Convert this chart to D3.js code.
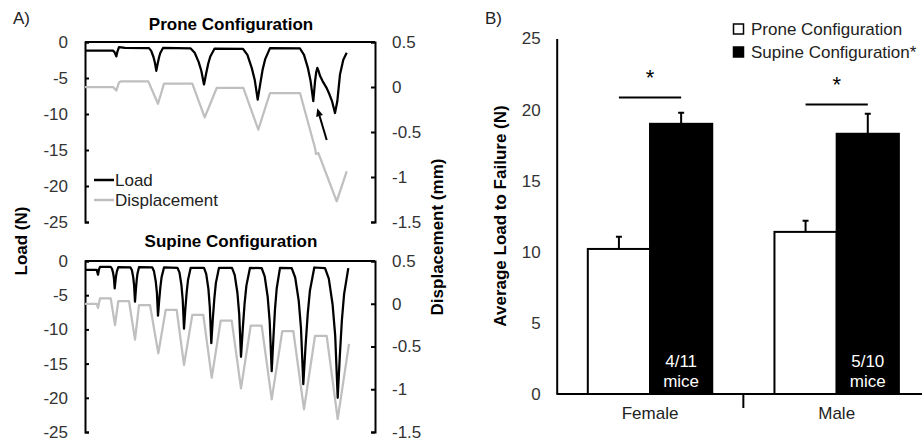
<!DOCTYPE html>
<meta charset="utf-8">
<title>Load to failure</title>
<style>
  body { margin: 0; background: #fff; }
  svg { font-family: "Liberation Sans", Arial, sans-serif; }
  .tick text { font-size: 17px; fill: #333; }
  .axis path, .axis line { stroke: #000; stroke-width: 2; }
  .ttl { font-size: 17px; font-weight: bold; fill: #000; }
  .lbl { font-size: 17px; fill: #222; }
</style>
<body>
<svg width="922" height="443"></svg>
<script src="https://cdnjs.cloudflare.com/ajax/libs/d3/7.8.5/d3.min.js"></script>
<script>
// ---------- Panel A data: [time (arbitrary units), value] ----------
const proneLoad = [
  [0,-1.2],[28,-1.2],[29.5,-1.4],[31.3,-2.0],[32.5,-1.3],[34,-0.7],[40,-0.8],[64,-0.85],
  [66.2,-1.23],[68.4,-2.05],[69.8,-2.8],[71.3,-4.0],[72.6,-3.05],[74,-2.16],[75.3,-1.53],[78,-0.83],
  [105.7,-0.9],[109.7,-1.5],[113.7,-2.8],[116.3,-4.0],[119,-5.9],[121.1,-4.41],[123.2,-3.02],[125.3,-2.02],[129.5,-0.93],
  [158,-0.95],[162.4,-1.8],[166.8,-3.63],[169.8,-5.32],[172.7,-8.0],[175.2,-5.86],[177.6,-3.85],[180.1,-2.42],[185,-0.85],
  [215,-0.9],[219,-1.78],[223,-3.67],[225.6,-5.43],[228.3,-8.2],[230,-5.5],[231.2,-4.2],[232.3,-3.6],[233.5,-4.0],
  [235,-4.7],[237.7,-5.46],[241.7,-6.4],[244.5,-7.3],[247,-8.2],[250,-9.86],[252.3,-8.24],[255,-4.5],[258.3,-2.46],[261.7,-1.5]
];
const proneDisp = [
  [0,0],[28,0],[31.3,-0.04],[34,0.05],[35.7,0.063],[63.3,0.063],[73,-0.186],[79,0.037],[107.3,0.037],
  [119.7,-0.337],[131.7,-0.011],[158.3,-0.011],[173.3,-0.474],[185,-0.067],[215,-0.067],[230,-0.678],
  [231,-0.744],[233.3,-0.733],[251.7,-1.27],[261.7,-0.937]
];
const supineLoad = [
  [0,-1.3],[11.7,-1.3],[13,-2.0],[14,-1.2],[15,-0.85],
  [25.7,-0.85],[26.9,-1.1],[28.1,-1.73],[28.9,-2.49],[29.7,-4.0],[30.4,-3.01],[31.1,-2.14],[31.9,-1.52],[33.3,-0.9],
  [45.5,-0.95],[46.9,-1.35],[48.2,-2.35],[49.1,-3.55],[50,-5.95],[50.8,-4.33],[51.6,-2.92],[52.4,-1.91],[54,-0.9],
  [67.3,-0.95],[69,-1.51],[70.7,-2.92],[71.9,-4.62],[73,-8.0],[74.2,-5.74],[75.4,-3.77],[76.6,-2.36],[79,-0.95],
  [92.5,-1.0],[94.5,-1.71],[96.4,-3.49],[97.7,-5.63],[99,-9.9],[100.3,-7.05],[101.7,-4.56],[103,-2.78],[105.7,-1.0],
  [119,-1.0],[121.2,-1.88],[123.4,-4.08],[124.8,-6.72],[126.3,-12.0],[127.8,-8.48],[129.4,-5.4],[130.9,-3.2],[134,-1.0],
  [147,-1.0],[149.7,-2.04],[152.4,-4.64],[154.2,-7.76],[156,-14.0],[157.8,-9.84],[159.6,-6.2],[161.4,-3.6],[165,-1.0],
  [176.7,-1.05],[179.7,-2.25],[182.7,-5.26],[184.7,-8.88],[186.7,-16.1],[188.4,-11.27],[190,-7.04],[191.7,-4.02],[195,-1.0],
  [206.7,-1.05],[210.2,-2.41],[213.7,-5.8],[216,-9.86],[218.3,-18.0],[220.5,-12.54],[222.7,-7.77],[224.9,-4.36],[229.3,-0.95],
  [240,-1.05],[243.8,-2.57],[247.6,-6.36],[250.2,-10.9],[252.7,-20.0],[254.8,-13.94],[256.9,-8.63],[259.1,-4.84],[263.3,-1.05]
];
const supineDisp = [
  [0,0],[11.7,0],[13,-0.05],[15,0.064],[25.7,0.064],[30,-0.25],[33.3,0.032],[44,0.032],[50,-0.42],[54,-0.015],
  [65,-0.015],[73.3,-0.58],[80.7,-0.073],[91.7,-0.073],[99,-0.716],[107.3,-0.13],[118.3,-0.13],[126.7,-0.865],
  [135.7,-0.198],[146.7,-0.198],[156,-0.99],[165.7,-0.257],[176.7,-0.257],[186.7,-1.118],[197.3,-0.319],
  [208.3,-0.319],[219,-1.234],[230,-0.377],[241.7,-0.377],[252.7,-1.348],[264,-0.47]
];
const loadTicks = [0, -5, -10, -15, -20, -25];
const dispTicks = [0.5, 0, -0.5, -1, -1.5];
// failure arrow on prone trace: [time, load] tail -> head
const failArrow = [[241.7, -13.6], [232.3, -9.2]];

// ---------- Panel B data ----------
const sexes = ["Female", "Male"];
const configs = ["Prone Configuration", "Supine Configuration*"];
const proneMean = [10.2, 11.4];
const proneErr = [0.85, 0.78];
const supineMean = [19.0, 18.3];
const supineErr = [0.78, 1.4];
const failedMice = [["4/11", "mice"], ["5/10", "mice"]];
const sigLevel = [20.85, 20.35];

const svg = d3.select("svg");
svg.append("rect").attr("width", 922).attr("height", 443).attr("fill", "#fff");

//////////////////////////////////////////////////
// Panel A
//////////////////////////////////////////////////
const x = d3.scaleLinear().domain([0, 290]).range([85, 375]);
const panels = [
  {title: "Prone Configuration", load: proneLoad, disp: proneDisp, top: 42, bottom: 222, titleY: 30},
  {title: "Supine Configuration", load: supineLoad, disp: supineDisp, top: 261, bottom: 432, titleY: 247}
];

panels.forEach(function(p, i) {
  const yL = d3.scaleLinear().domain([-25, 0]).range([p.bottom, p.top]);
  const yD = d3.scaleLinear().domain([-1.5, 0.5]).range([p.bottom, p.top]);
  const g = svg.append("g");

  g.append("text").attr("class", "ttl").attr("x", 231).attr("y", p.titleY)
    .attr("text-anchor", "middle").text(p.title);

  // horizontal axis sits at load 0 (top of frame)
  g.append("line").attr("x1", x.range()[0]).attr("x2", x.range()[1])
    .attr("y1", yL(0)).attr("y2", yL(0)).attr("stroke", "#000").attr("stroke-width", 2);

  g.append("g").attr("class", "axis").attr("transform", "translate(" + x.range()[0] + ",0)")
    .call(d3.axisLeft(yL).tickValues(loadTicks).tickSize(-4).tickPadding(17).tickFormat(function(d){ return String(d); }));
  g.append("g").attr("class", "axis").attr("transform", "translate(" + x.range()[1] + ",0)")
    .call(d3.axisRight(yD).tickValues(dispTicks).tickSize(-4).tickPadding(17).tickFormat(function(d){ return String(d); }));

  const lineD = d3.line().x(function(d){ return x(d[0]); }).y(function(d){ return yD(d[1]); });
  const lineL = d3.line().x(function(d){ return x(d[0]); }).y(function(d){ return yL(d[1]); });

  g.append("path").datum(p.disp).attr("d", lineD).attr("fill", "none")
    .attr("stroke", "#bfbfbf").attr("stroke-width", 2.25).attr("stroke-linejoin", "round");
  g.append("path").datum(p.load).attr("d", lineL).attr("fill", "none")
    .attr("stroke", "#000").attr("stroke-width", 2.25).attr("stroke-linejoin", "round");

  if (i === 0) {
    // legend
    [["Load", "#000", 180], ["Displacement", "#bfbfbf", 200]].forEach(function(l) {
      g.append("line").attr("x1", 94).attr("x2", 114).attr("y1", l[2]).attr("y2", l[2])
        .attr("stroke", l[1]).attr("stroke-width", 2.5);
      g.append("text").attr("class", "lbl").attr("x", 115).attr("y", l[2] + 6).text(l[0]);
    });
    // failure arrow
    const ax0 = x(failArrow[0][0]), ay0 = yL(failArrow[0][1]);
    const ax1 = x(failArrow[1][0]), ay1 = yL(failArrow[1][1]);
    const ang = Math.atan2(ay1 - ay0, ax1 - ax0);
    const hl = 8, hw = 3.5;
    const bx = ax1 - hl * Math.cos(ang), by = ay1 - hl * Math.sin(ang);
    g.append("line").attr("x1", ax0).attr("y1", ay0).attr("x2", bx).attr("y2", by)
      .attr("stroke", "#000").attr("stroke-width", 2);
    g.append("path").attr("fill", "#000").attr("d",
      "M" + ax1 + "," + ay1 +
      "L" + (bx + hw * Math.sin(ang)) + "," + (by - hw * Math.cos(ang)) +
      "L" + (bx - hw * Math.sin(ang)) + "," + (by + hw * Math.cos(ang)) + "Z");
  }
});

svg.append("text").attr("class", "lbl").attr("x", 13).attr("y", 24).text("A)");
svg.append("text").attr("class", "ttl").attr("text-anchor", "middle")
  .attr("transform", "translate(27,241) rotate(-90)").text("Load (N)");
svg.append("text").attr("class", "ttl").attr("text-anchor", "middle")
  .attr("transform", "translate(443,237) rotate(-90)").text("Displacement (mm)");

//////////////////////////////////////////////////
// Panel B
//////////////////////////////////////////////////
const yB = d3.scaleLinear().domain([0, 25]).range([394, 38.5]);
const xB = d3.scaleBand().domain(sexes).range([556.7, 930]);
const xC = d3.scaleBand().domain(configs).range([0, xB.bandwidth()]).paddingOuter(0.5);

const groups = sexes.map(function(s, i) {
  return {sex: s, i: i, bars: [
    {c: configs[0], m: proneMean[i], e: proneErr[i], fill: "#fff"},
    {c: configs[1], m: supineMean[i], e: supineErr[i], fill: "#000"}
  ]};
});

const gB = svg.append("g");
const grp = gB.selectAll(".grp").data(groups).enter().append("g")
  .attr("transform", function(d){ return "translate(" + xB(d.sex) + ",0)"; });

// error bars (upper only)
grp.selectAll(".err").data(function(d){ return d.bars; }).enter().append("path")
  .attr("fill", "none").attr("stroke", "#000").attr("stroke-width", 2)
  .attr("d", function(d) {
    const cx = xC(d.c) + xC.bandwidth() / 2;
    return "M" + cx + "," + yB(d.m) + "V" + yB(d.m + d.e) + "M" + (cx - 3) + "," + yB(d.m + d.e) + "H" + (cx + 3);
  });

grp.selectAll(".bar").data(function(d){ return d.bars; }).enter().append("rect")
  .attr("x", function(d){ return xC(d.c); })
  .attr("y", function(d){ return yB(d.m); })
  .attr("width", xC.bandwidth())
  .attr("height", function(d){ return yB(0) - yB(d.m); })
  .attr("fill", function(d){ return d.fill; })
  .attr("stroke", "#000").attr("stroke-width", 2);

// mice that failed text inside supine bars
grp.each(function(d) {
  const cx = xC(configs[1]) + xC.bandwidth() / 2;
  d3.select(this).selectAll(".mt").data(failedMice[d.i]).enter().append("text")
    .attr("class", "lbl").attr("fill", "#fff").style("fill", "#fff")
    .attr("text-anchor", "middle").attr("x", cx)
    .attr("y", function(t, j){ return yB(0) - 27 + j * 20; })
    .text(function(t){ return t; });
});

// significance bars
grp.each(function(d) {
  const c0 = xC(configs[0]) + xC.bandwidth() / 2, c1 = xC(configs[1]) + xC.bandwidth() / 2;
  const yy = yB(sigLevel[d.i]);
  d3.select(this).append("line").attr("x1", c0).attr("x2", c1).attr("y1", yy).attr("y2", yy)
    .attr("stroke", "#000").attr("stroke-width", 2);
  d3.select(this).append("text").attr("x", (c0 + c1) / 2).attr("y", yy - 13)
    .attr("text-anchor", "middle").style("font-size", "22px").attr("fill", "#000").text("*");
});

// axes
gB.append("g").attr("class", "axis").attr("transform", "translate(556.7,0)")
  .call(d3.axisLeft(yB).tickValues([0, 5, 10, 15, 20, 25]).tickSize(0).tickPadding(16));
gB.append("line").attr("x1", 556.7).attr("x2", 922).attr("y1", yB(0)).attr("y2", yB(0))
  .attr("stroke", "#000").attr("stroke-width", 2);
gB.append("line").attr("x1", xB("Male")).attr("x2", xB("Male")).attr("y1", yB(0)).attr("y2", yB(0) + 14)
  .attr("stroke", "#000").attr("stroke-width", 2);
gB.selectAll(".cat").data(sexes).enter().append("text").attr("class", "lbl")
  .attr("x", function(d){ return xB(d) + xB.bandwidth() / 2; }).attr("y", 419)
  .attr("text-anchor", "middle").text(function(d){ return d; });

gB.append("text").attr("class", "ttl").attr("text-anchor", "middle")
  .attr("transform", "translate(506,216) rotate(-90)").text("Average Load to Failure (N)");
gB.append("text").attr("class", "lbl").attr("x", 485).attr("y", 24).text("B)");

// legend
configs.forEach(function(c, i) {
  gB.append("rect").attr("x", 733.5).attr("y", 24 + i * 23).attr("width", 10).attr("height", 10)
    .attr("fill", i === 0 ? "#fff" : "#000").attr("stroke", "#000").attr("stroke-width", 1.5);
  gB.append("text").attr("class", "lbl").attr("x", 751).attr("y", 35 + i * 23).text(c);
});
</script>
</body>
